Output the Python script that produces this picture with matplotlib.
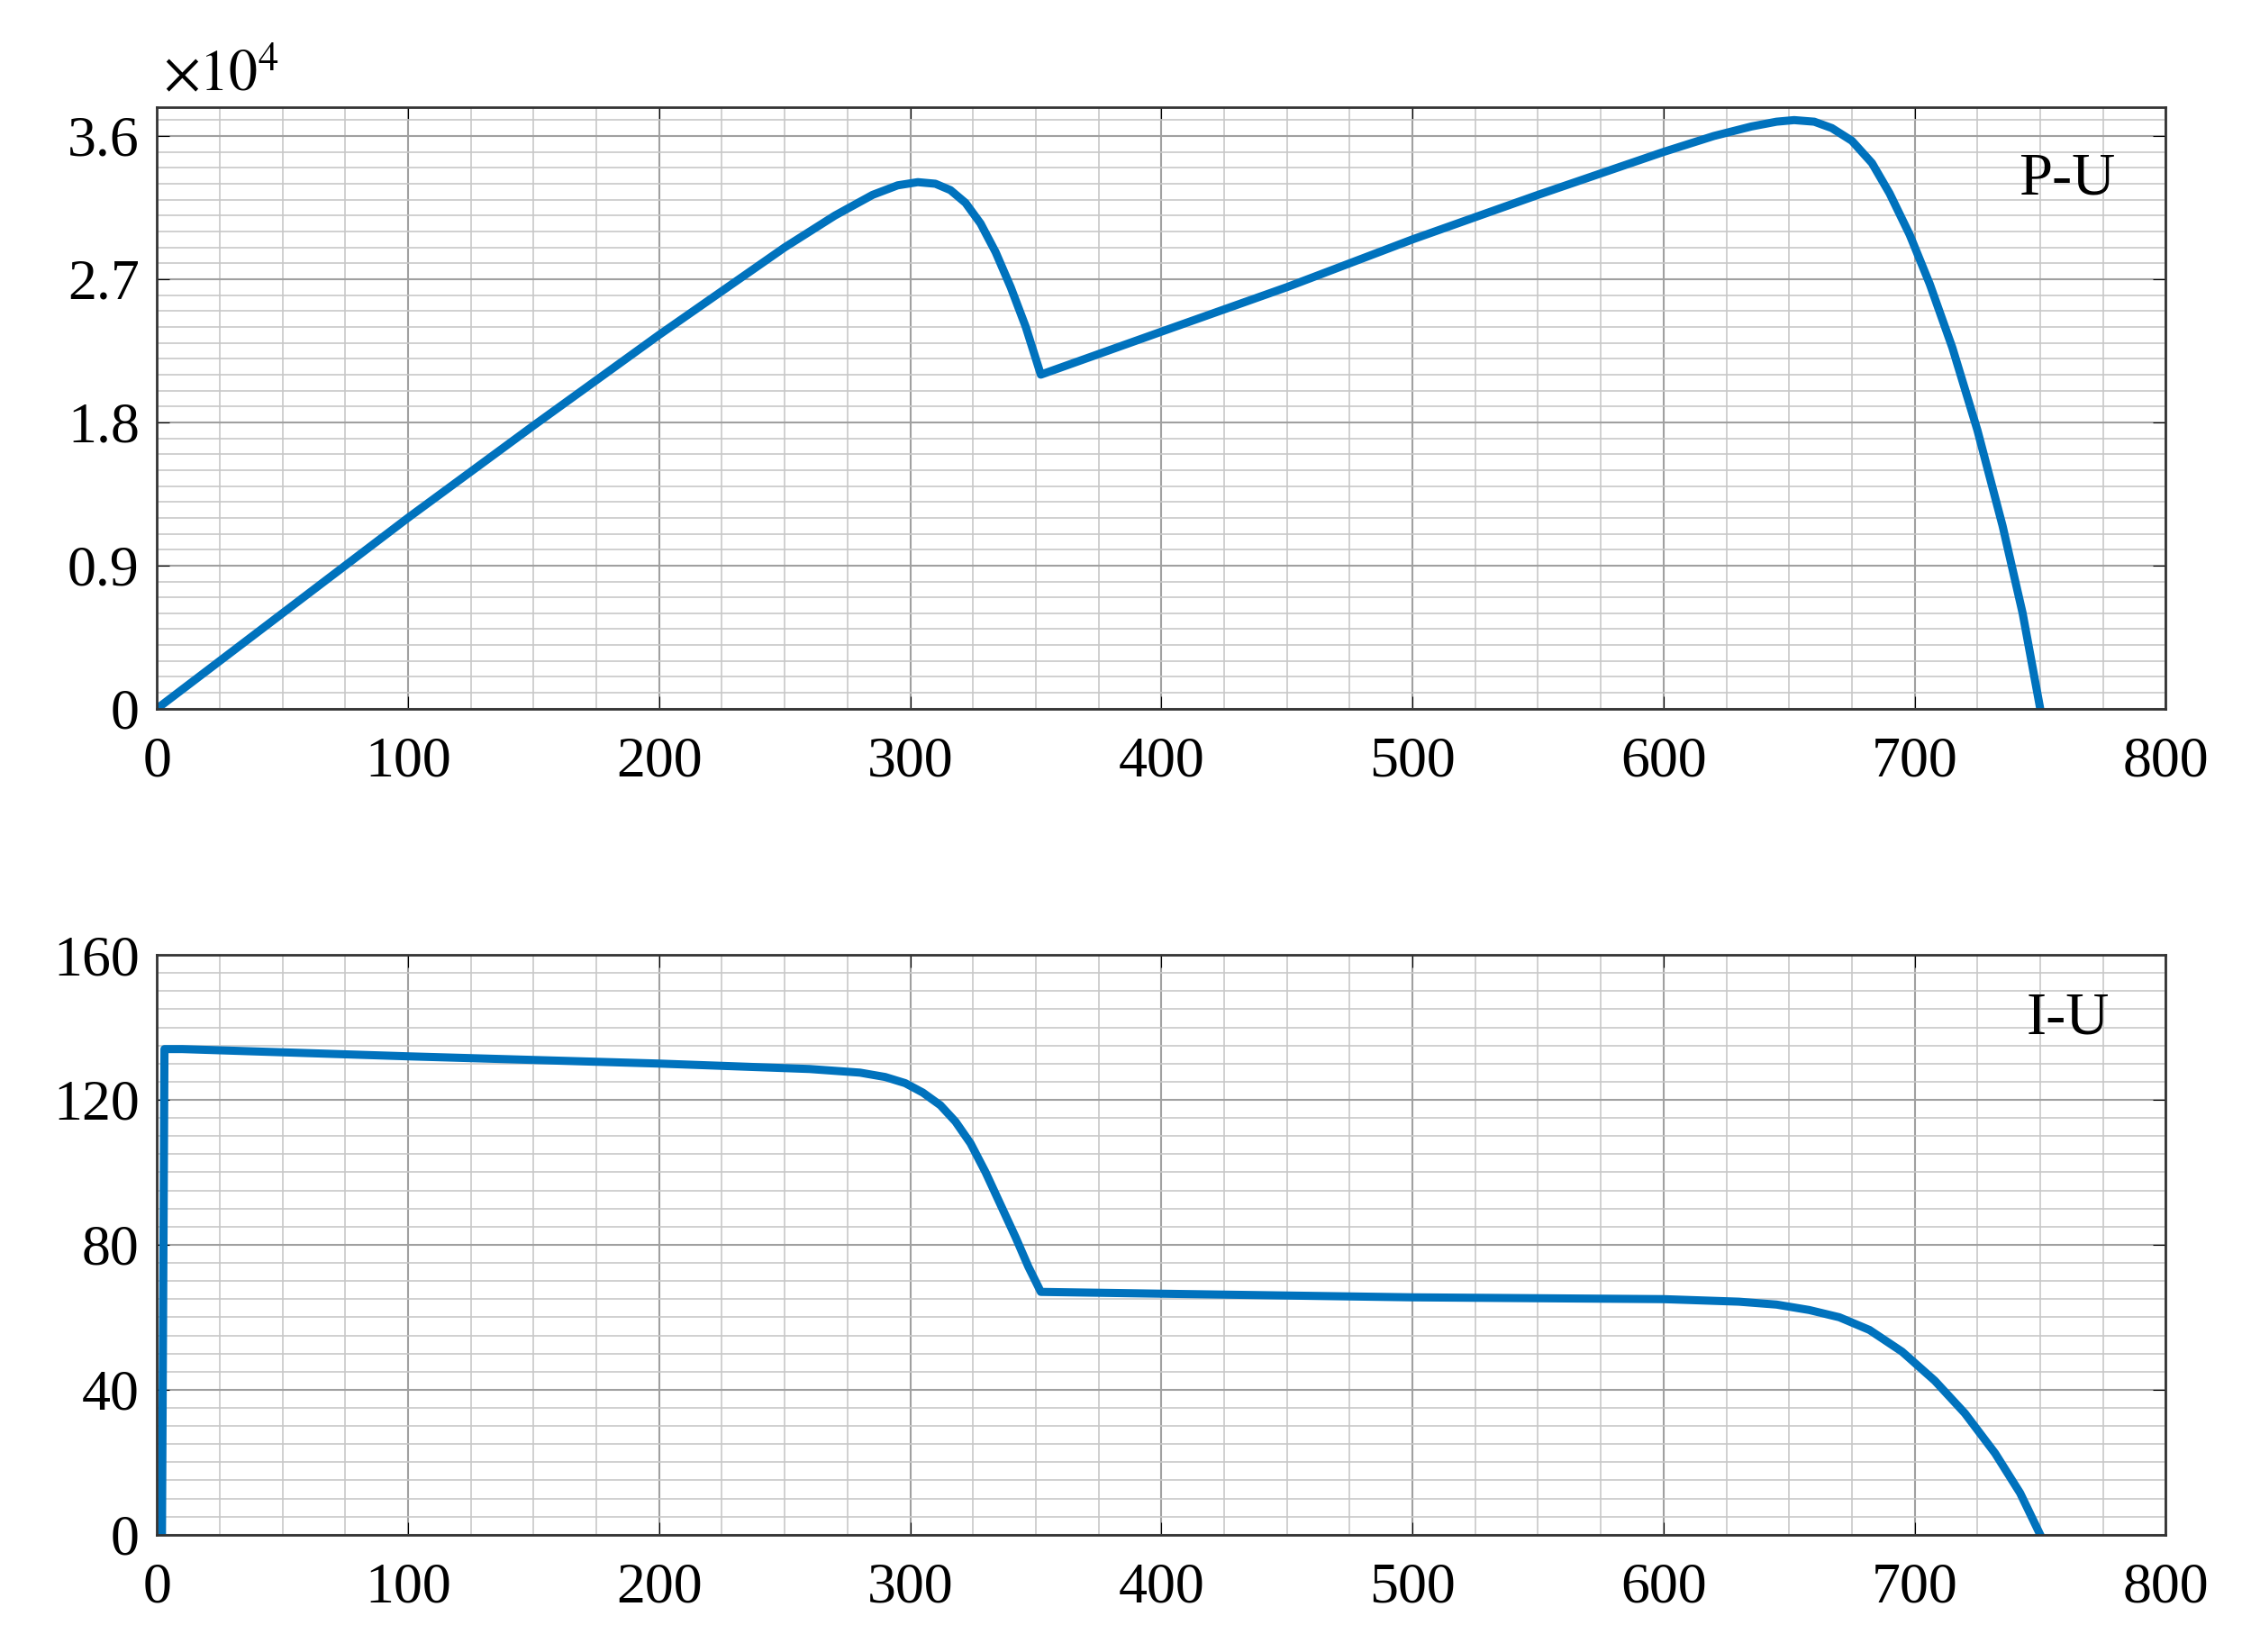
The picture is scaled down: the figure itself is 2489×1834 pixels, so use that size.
import numpy as np
import matplotlib.pyplot as plt
from matplotlib.ticker import MultipleLocator

# P-U curve (power, x1e4)
pu_u = [0, 50, 100, 150, 200, 250, 270, 285, 295, 303, 310, 316, 322, 328, 334,
        340, 346, 352, 400, 450, 500, 550, 600, 620, 635, 645, 652, 660, 667,
        675, 683, 690, 698, 706, 715, 725, 735, 743, 750]
pu_p = [0, 0.6, 1.2, 1.78, 2.35, 2.9, 3.1, 3.23, 3.29, 3.31, 3.3, 3.26, 3.18,
        3.05, 2.87, 2.65, 2.4, 2.1, 2.37, 2.65, 2.95, 3.23, 3.5, 3.6, 3.66, 3.69,
        3.7, 3.69, 3.65, 3.57, 3.43, 3.24, 2.98, 2.67, 2.27, 1.75, 1.15, 0.6, 0]

# I-U curve
iu_u = [2, 3, 10, 100, 200, 260, 280, 290, 298, 305, 312, 318, 324, 330, 336,
        342, 347, 352, 400, 500, 600, 630, 645, 658, 670, 682, 695, 708, 720,
        732, 742, 750]
iu_i = [0, 134, 134, 132, 130, 128.5, 127.5, 126.3, 124.6, 122, 118.5, 114, 108,
        100, 91, 82, 74, 67, 66.5, 65.5, 65, 64.3, 63.5, 62, 60, 56.5, 50.5, 42.5,
        33.5, 22.5, 11.5, 0]

plt.rcParams['font.family'] = ['Liberation Serif', 'DejaVu Serif']
plt.rcParams['mathtext.fontset'] = 'stix'
fig = plt.figure(figsize=(24.89, 18.34), dpi=100)
ax1 = fig.add_axes([0.070, 0.571, 0.896, 0.364])
ax2 = fig.add_axes([0.070, 0.071, 0.896, 0.351])

blue = '#0072BD'
ax1.plot(pu_u, np.array(pu_p) * 1e4, color=blue, lw=6.5, solid_joinstyle='round')
ax2.plot(iu_u, iu_i, color=blue, lw=6.5, solid_joinstyle='round')

ax1.set_ylim(0, 3.78e4)
ax1.yaxis.set_minor_locator(MultipleLocator(0.1e4))
ax1.set_yticks([0, 0.9e4, 1.8e4, 2.7e4, 3.6e4])
ax1.set_yticklabels(['0', '0.9', '1.8', '2.7', '3.6'])
ax1.text(0.003, 1.005, r'$\times10^{4}$', transform=ax1.transAxes, fontsize=46,
         ha='left', va='bottom')
ax1.text(0.975, 0.88, 'P-U', transform=ax1.transAxes, fontsize=48, ha='right', va='center')

ax2.set_ylim(0, 160)
ax2.yaxis.set_major_locator(MultipleLocator(40))
ax2.yaxis.set_minor_locator(MultipleLocator(5))
ax2.text(0.972, 0.89, 'I-U', transform=ax2.transAxes, fontsize=48, ha='right', va='center')

for ax in (ax1, ax2):
    ax.set_xlim(0, 800)
    ax.xaxis.set_major_locator(MultipleLocator(100))
    ax.xaxis.set_minor_locator(MultipleLocator(25))
    ax.grid(which='major', color='#a0a0a0', lw=1.5)
    ax.grid(which='minor', color='#c8c8c8', lw=1.2)
    ax.set_axisbelow(True)
    ax.tick_params(labelsize=46, direction='in', length=10, top=True, right=True)
    ax.tick_params(axis='x', pad=22)
    ax.tick_params(axis='y', pad=14)
    ax.tick_params(which='minor', length=0)
    for s in ax.spines.values():
        s.set_linewidth(2)
        s.set_color('#333333')

fig.savefig('out.png', dpi=100)
